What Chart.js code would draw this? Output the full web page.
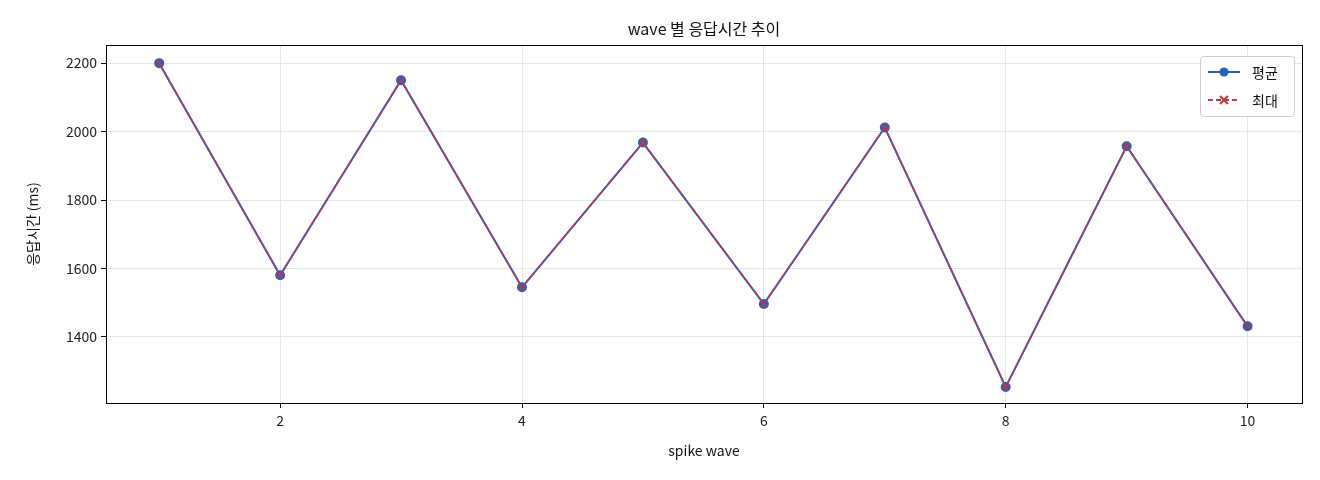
<!DOCTYPE html><html><head><meta charset="utf-8">
<script src="https://cdn.jsdelivr.net/npm/chart.js@4/dist/chart.umd.min.js"></script>
<style>body{margin:0;background:#fff}#w{width:1320px;height:480px}</style></head><body><div id="w"><canvas id="c"></canvas></div>
<script>
const waves=[1,2,3,4,5,6,7,8,9,10];
const avgMs=[2200,1580,2150,1545,1968,1496,2012,1254,1957,1431];
const maxMs=[2200,1580,2150,1545,1968,1496,2012,1254,1957,1431];
const xTicks=[2,4,6,8,10];
const yTicks=[1400,1600,1800,2000,2200];
const F='"Noto Sans CJK KR","Noto Sans",sans-serif';
const blue='#1f63c6', red='#d1323a';
const deco={id:'deco',afterDraw(ch){const c=ch.ctx,a=ch.chartArea;c.save();
c.strokeStyle='#000';c.lineWidth=1;c.strokeRect(a.left+.5,a.top+.5,a.right-a.left,a.bottom-a.top);
c.fillStyle='#111';c.textAlign='center';c.textBaseline='middle';
c.font='16px '+F;c.fillText('wave 별 응답시간 추이',(a.left+a.right)/2,29);
c.font='14px '+F;c.fillText('spike wave',(a.left+a.right)/2,451);
c.translate(33,(a.top+a.bottom)/2);c.rotate(-Math.PI/2);c.fillText('응답시간 (ms)',0,0);c.restore();
c.save();const lx=1200,ly=56,lw=94,lh=60;
c.fillStyle='rgba(255,255,255,.9)';c.strokeStyle='#ccc';c.lineWidth=1;
c.beginPath();c.roundRect(lx+.5,ly+.5,lw,lh,3);c.fill();c.stroke();
c.font='14px '+F;c.textBaseline='middle';c.textAlign='left';
const rows=[[blue,[],'circle',ch.data.datasets[0].label],[red,[5,3],'x',ch.data.datasets[1].label]];
rows.forEach((r,i)=>{const y=ly+16+i*28;c.strokeStyle=r[0];c.lineWidth=2;c.setLineDash(r[1]);
c.beginPath();c.moveTo(lx+8,y);c.lineTo(lx+40,y);c.stroke();c.setLineDash([]);
if(r[2]==='circle'){c.fillStyle=r[0];c.beginPath();c.arc(lx+24,y,4.5,0,7);c.fill();}
else{c.beginPath();c.moveTo(lx+20,y-4);c.lineTo(lx+28,y+4);c.moveTo(lx+28,y-4);c.lineTo(lx+20,y+4);c.stroke();}
c.fillStyle='#111';c.fillText(r[3],lx+52,y+1);});
c.restore();}};
new Chart(document.getElementById('c'),{type:'line',
data:{datasets:[
{label:'평균',order:2,data:waves.map((x,i)=>({x,y:avgMs[i]})),borderColor:blue,backgroundColor:blue,borderWidth:2,pointRadius:4,pointStyle:'circle'},
{label:'최대',order:1,data:waves.map((x,i)=>({x,y:maxMs[i]})),borderColor:red,backgroundColor:red,borderWidth:1.6,borderDash:[5,3],pointRadius:4.5,pointStyle:'cross',pointRotation:45,pointBorderWidth:1.5}]},
options:{animation:false,responsive:true,maintainAspectRatio:false,devicePixelRatio:1,
layout:{padding:{top:45,right:18,left:0,bottom:0}},
plugins:{legend:{display:false},title:{display:false},tooltip:{enabled:false}},
scales:{
x:{type:'linear',min:0.56,max:10.45,afterFit(s){s.height=77},afterBuildTicks(s){s.ticks=xTicks.map(v=>({value:v}))},
grid:{color:'#e6e6e6',tickLength:5,tickColor:'#000'},border:{display:false},ticks:{color:'#222',font:{size:14,family:F},padding:4,callback:v=>String(v)}},
y:{min:1207,max:2253,afterFit(s){s.width=106},afterBuildTicks(s){s.ticks=yTicks.map(v=>({value:v}))},
grid:{color:'#e6e6e6',tickLength:5,tickColor:'#000'},border:{display:false},ticks:{color:'#222',font:{size:14,family:F},padding:4,callback:v=>String(v)}}}},
plugins:[deco]});
</script></body></html>
